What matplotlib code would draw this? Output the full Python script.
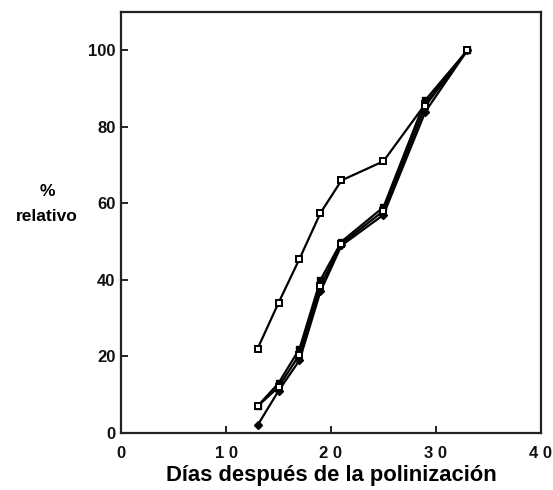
import matplotlib
matplotlib.use("Agg")
import matplotlib.pyplot as plt

# Days after pollination
dias = [13, 15, 17, 19, 21, 25, 29, 33]

# Relative percentage for each series
serie_a = [22, 34, 45.5, 57.5, 66, 71, 86, 100]
serie_b = [7, 13, 22, 40, 50, 59, 87, 100]
serie_c = [2, 11, 19, 37, 49, 57, 84, 100]
serie_d = [7, 12, 20.5, 38.5, 49.5, 58, 85.5, 100]

x_ticks = [0, 10, 20, 30, 40]
x_tick_labels = ["0", "1 0", "2 0", "3 0", "4 0"]
y_ticks = [0, 20, 40, 60, 80, 100]

plt.rcParams["font.family"] = ["Liberation Sans", "DejaVu Sans"]
plt.rcParams["font.weight"] = "bold"

fig = plt.figure(figsize=(5.53, 4.9), dpi=100)
ax = fig.add_axes([0.219, 0.1163, 0.759, 0.8592])

lw = 1.6
ax.plot(dias, serie_a, color="black", lw=lw, marker="s", ms=5,
        mfc="white", mec="black", mew=1.4)
ax.plot(dias, serie_b, color="black", lw=lw, marker="s", ms=5,
        mfc="black", mec="black")
ax.plot(dias, serie_c, color="black", lw=lw, marker="D", ms=4,
        mfc="black", mec="black")
ax.plot(dias, serie_d, color="black", lw=lw, marker="s", ms=5,
        mfc="white", mec="black", mew=1.4)

ax.set_xlim(0, 40)
ax.set_ylim(0, 110)
ax.set_xticks(x_ticks)
ax.set_xticklabels(x_tick_labels)
ax.set_yticks(y_ticks)

for s in ax.spines.values():
    s.set_linewidth(1.6)
    s.set_color("#222222")

ax.tick_params(axis="both", direction="in", length=5, width=1.3,
               labelsize=12, colors="#111111")
ax.tick_params(axis="x", pad=9)
ax.tick_params(axis="y", pad=4)

ax.set_xlabel("Días después de la polinización", fontsize=15.8,
              fontweight="bold", labelpad=3)
ax.text(-0.176, 0.544, "%\nrelativo", transform=ax.transAxes,
        ha="center", va="center", fontsize=12.5, fontweight="bold",
        linespacing=1.8)

fig.savefig("out.png", dpi=100, facecolor="white")
